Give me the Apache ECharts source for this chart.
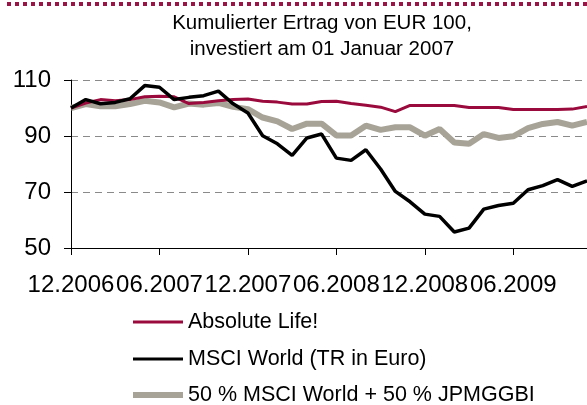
<!DOCTYPE html>
<html>
<head>
<meta charset="utf-8">
<script src="https://cdn.jsdelivr.net/npm/echarts@6/dist/echarts.min.js"></script>
<style>html,body{margin:0;padding:0;background:#fff}#c{width:587px;height:405px}</style>
</head>
<body>
<div id="c"></div>
<script>
var categories = ['12.2006','01.2007','02.2007','03.2007','04.2007','05.2007','06.2007','07.2007','08.2007','09.2007','10.2007','11.2007',
  '12.2007','01.2008','02.2008','03.2008','04.2008','05.2008','06.2008','07.2008','08.2008','09.2008','10.2008','11.2008',
  '12.2008','01.2009','02.2009','03.2009','04.2009','05.2009','06.2009','07.2009','08.2009','09.2009','10.2009','11.2009'];
var absoluteLife = [100,101.8,103,102.6,103,104,104.2,104,101.6,102,102.6,103,
  103.2,102.4,102.1,101.4,101.4,102.3,102.4,101.6,101,100.3,98.7,100.9,
  100.9,100.9,100.9,100.2,100.2,100.2,99.5,99.5,99.5,99.5,99.6,100.5];
var msciWorld = [100,103,101.5,102,103.3,108,107.4,103,103.8,104.4,106,101.5,
  98.2,90.1,87.2,83.1,89.3,90.7,82.1,81.3,85.1,78.2,70.2,66.5,
  62.1,61.3,55.7,57.1,63.9,65.2,66,70.8,72.3,74.4,72,74];
var mixed = [100,101.4,100.6,100.6,101.4,102.6,102,100.2,101.6,101.2,101.8,100.4,
  99.6,96.6,95.2,92.5,94.4,94.4,90.2,90.2,93.7,92.2,93.1,93.1,
  90.1,92.5,87.7,87.2,90.7,89.3,89.9,92.8,94.3,95,93.7,95];
var yTicks = {min: 50, max: 110, interval: 20};
var names = ['Absolute Life!', 'MSCI World (TR in Euro)', '50 % MSCI World + 50 % JPMGGBI'];
var colors = ['#9b0a3c', '#000000', '#a7a397'];

var FONT = 'Liberation Sans, Arial, sans-serif';
var chart = echarts.init(document.getElementById('c'), null, {renderer: 'canvas'});
function legendFor(i, top, h) {
  return {
    data: [names[i]], left: 133, top: top, padding: 0, orient: 'vertical',
    icon: 'rect', itemWidth: 50, itemHeight: h, itemGap: 0,
    textStyle: {fontFamily: FONT, fontSize: 21.5, color: '#000'},
    selectedMode: false
  };
}
chart.setOption({
  animation: false,
  title: {
    text: 'Kumulierter Ertrag von EUR 100,\ninvestiert am 01 Januar 2007',
    left: 322, top: 10, padding: 0, textAlign: 'center',
    textStyle: {fontFamily: FONT, fontSize: 20.5, fontWeight: 'normal', color: '#000', lineHeight: 26}
  },
  graphic: [{
    type: 'line', shape: {x1: 7, y1: 4, x2: 587, y2: 4},
    style: {stroke: '#9b1446', lineWidth: 4, lineDash: [4, 4]}
  }],
  legend: [legendFor(0, 311, 3), legendFor(1, 348, 3), legendFor(2, 384, 6)],
  grid: {left: 71, right: -5, top: 80, bottom: 157},
  xAxis: {
    type: 'category', data: categories, boundaryGap: false,
    axisLine: {lineStyle: {color: '#000', width: 1}},
    axisTick: {interval: 5, length: 7, lineStyle: {color: '#000'}},
    axisLabel: {interval: 5, margin: 25, fontFamily: FONT, fontSize: 24, color: '#000'},
    splitLine: {show: false}
  },
  yAxis: {
    type: 'value', min: yTicks.min, max: yTicks.max, interval: yTicks.interval,
    axisLine: {show: true, lineStyle: {color: '#000', width: 1}},
    axisTick: {show: true, length: 7, lineStyle: {color: '#000'}},
    axisLabel: {margin: 20, fontFamily: FONT, fontSize: 24, color: '#000'},
    splitLine: {show: true, lineStyle: {color: '#8a8a8a', type: [7, 5], width: 1}}
  },
  series: [
    {name: names[2], type: 'line', data: mixed, symbol: 'none', z: 2,
     lineStyle: {color: colors[2], width: 6}, itemStyle: {color: colors[2]}},
    {name: names[0], type: 'line', data: absoluteLife, symbol: 'none', z: 3,
     lineStyle: {color: colors[0], width: 3}, itemStyle: {color: colors[0]}},
    {name: names[1], type: 'line', data: msciWorld, symbol: 'none', z: 4,
     lineStyle: {color: colors[1], width: 3.5}, itemStyle: {color: colors[1]}}
  ]
});
</script>
</body>
</html>
